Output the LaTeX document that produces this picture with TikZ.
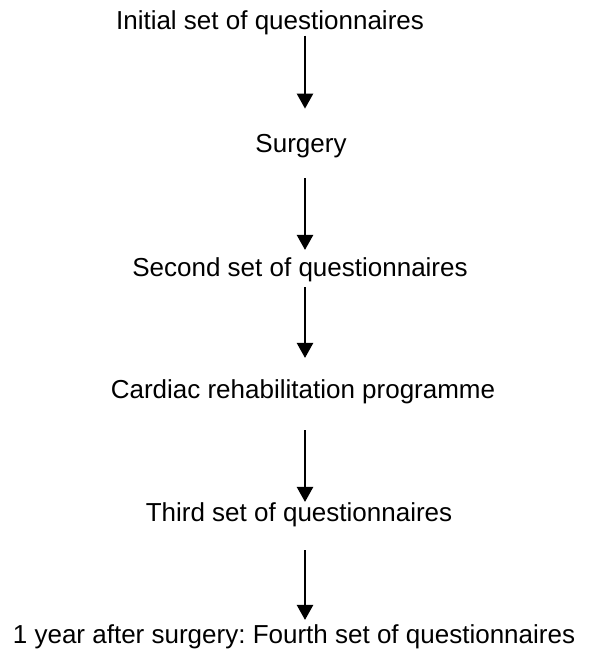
\documentclass[tikz,border=0pt]{standalone}
\usepackage{fontspec}
\setmainfont{Liberation Sans}
\usetikzlibrary{arrows.meta}
\frenchspacing

\tikzset{
  step text/.style={anchor=base,inner sep=0pt},
  flow/.style={-{Triangle[width=16pt,length=15pt]},line width=2.4pt}
}

\begin{document}
\begin{tikzpicture}[x=1pt,y=1pt,font=\fontsize{26}{31}\selectfont]
\useasboundingbox (0,0) rectangle (589,-650);
\coordinate (ax) at (305,0);
% the steps
\node[step text] (init) at (270,-30) {Initial set of questionnaires};
\node[step text] (surg) at (301,-153) {Surgery};
\node[step text] (sec) at (300,-276) {Second set of questionnaires};
\node[step text] (rehab) at (303,-398) {Cardiac rehabilitation programme};
\node[step text] (third) at (299,-521) {Third set of questionnaires};
\node[step text] (last) at (294,-643) {1 year after surgery: Fourth set of questionnaires};
% arrows between them
\draw[flow,shorten >=26pt] (init.south -| ax)--(surg.north -| ax);
\draw[flow,shorten <=19.5pt,shorten >=7pt] (surg.south -| ax)--(sec.north -| ax);
\draw[flow,shorten <=5.5pt,shorten >=21pt] (sec.south -| ax)--(rehab.north -| ax);
\draw[flow,shorten <=26.5pt] (rehab.south -| ax)--(third.north -| ax);
\draw[flow,shorten <=23.5pt,shorten >=4pt] (third.south -| ax)--(last.north -| ax);
\end{tikzpicture}
\end{document}
